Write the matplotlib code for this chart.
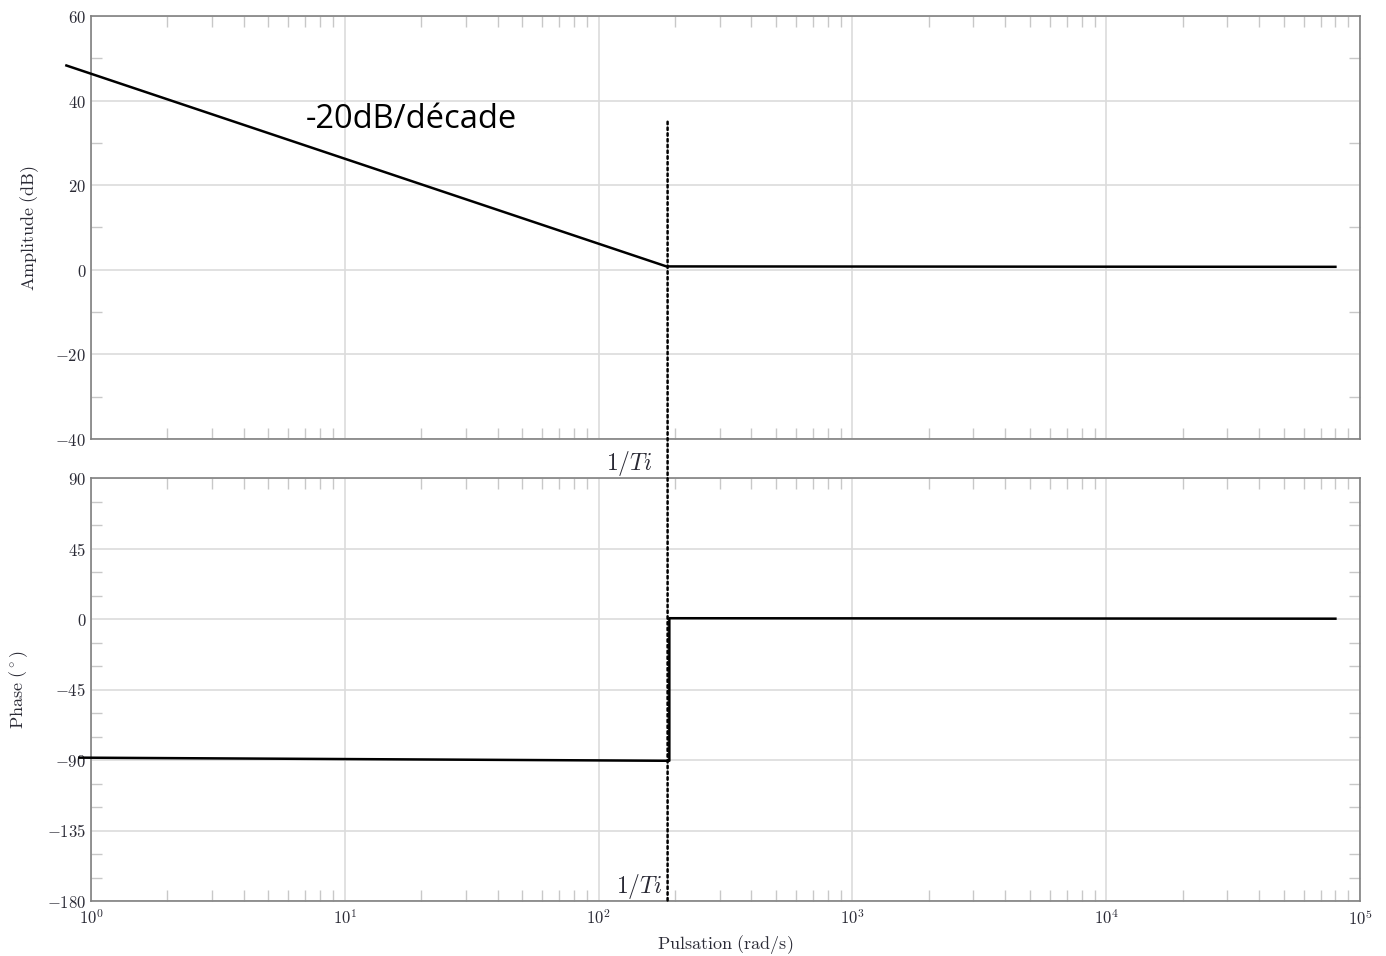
import matplotlib
matplotlib.use('Agg')
import matplotlib.pyplot as plt
from matplotlib.patches import ConnectionPatch
from matplotlib.ticker import FuncFormatter, MultipleLocator, LogLocator
import numpy as np

plt.rcParams['mathtext.fontset'] = 'cm'

# asymptotic Bode plot of a PI corrector
w_amp = [0.8, 185, 80000]
amp_db = [48.3, 0.8, 0.7]
w_phase = [0.9, 190, 190, 80000]
phase_deg = [-88.5, -90.5, 0.5, 0.2]
w_break = 187          # 1/Ti
slope_label = '-20dB/décade'

grid_col = '#dcdcdc'
spine_col = '#808080'
text_col = '#2a2a35'

fig = plt.figure(figsize=(13.86, 9.56), dpi=100)
W, H = 1386, 956
ax1 = fig.add_axes([91 / W, 1 - 439 / H, 1269 / W, 423 / H])
ax2 = fig.add_axes([91 / W, 1 - 901 / H, 1269 / W, 423 / H])

for ax in (ax1, ax2):
    ax.set_xscale('log')
    ax.set_xlim(1, 1e5)
    ax.xaxis.set_major_locator(LogLocator(base=10, numticks=10))
    ax.xaxis.set_minor_locator(LogLocator(base=10, subs=np.arange(2, 10), numticks=20))
    ax.grid(True, which='major', color=grid_col, lw=1.2)
    ax.set_axisbelow(True)
    for s in ax.spines.values():
        s.set_color(spine_col)
        s.set_linewidth(1.2)
    ax.tick_params(which='both', direction='in', top=True, right=True,
                   color='#c8c8c8', width=1.0, labelsize=12, labelcolor=text_col)
    ax.tick_params(which='major', length=0)
    ax.tick_params(which='minor', length=8)
    ax.yaxis.set_major_formatter(FuncFormatter(lambda v, _: f'${v:g}$'))

ax1.xaxis.set_major_formatter(FuncFormatter(lambda v, _: ''))
ax2.xaxis.set_major_formatter(
    FuncFormatter(lambda v, _: f'$10^{{{int(round(np.log10(v)))}}}$'))
ax2.tick_params(axis='x', pad=6)

ax1.set_ylim(-40, 60)
ax1.yaxis.set_major_locator(MultipleLocator(20))
ax1.yaxis.set_minor_locator(MultipleLocator(10))
ax2.set_ylim(-180, 90)
ax2.yaxis.set_major_locator(MultipleLocator(45))
ax2.yaxis.set_minor_locator(MultipleLocator(15))

ax1.plot(w_amp, amp_db, color='black', lw=1.8, clip_on=False, zorder=5)
ax2.plot(w_phase, phase_deg, color='black', lw=1.8, clip_on=False, zorder=5)

con = ConnectionPatch(xyA=(w_break, 35), coordsA=ax1.transData,
                      xyB=(w_break, -180), coordsB=ax2.transData,
                      color='black', lw=1.8, linestyle=(0, (1, 1.3)), zorder=6)
fig.add_artist(con)

ax1.text(7.0, 35.5, slope_label, fontsize=23.5, family='Open Sans',
         color='black', ha='left', va='center')
ax2.text(w_break * 0.87, 99, r'$\mathit{1/Ti}$', fontsize=17, color=text_col,
         ha='right', va='center', clip_on=False)
ax2.text(w_break * 0.95, -171, r'$\mathit{1/Ti}$', fontsize=17, color=text_col,
         ha='right', va='center')

ax1.set_ylabel(r'$\mathrm{Amplitude\ (dB)}$', fontsize=13, color=text_col, labelpad=10)
ax2.set_ylabel(r'$\mathrm{Phase\ (^\circ)}$', fontsize=13, color=text_col, labelpad=12)
ax2.set_xlabel(r'$\mathrm{Pulsation\ (rad/s)}$', fontsize=13, color=text_col, labelpad=3)

fig.savefig('out.png', dpi=100)
